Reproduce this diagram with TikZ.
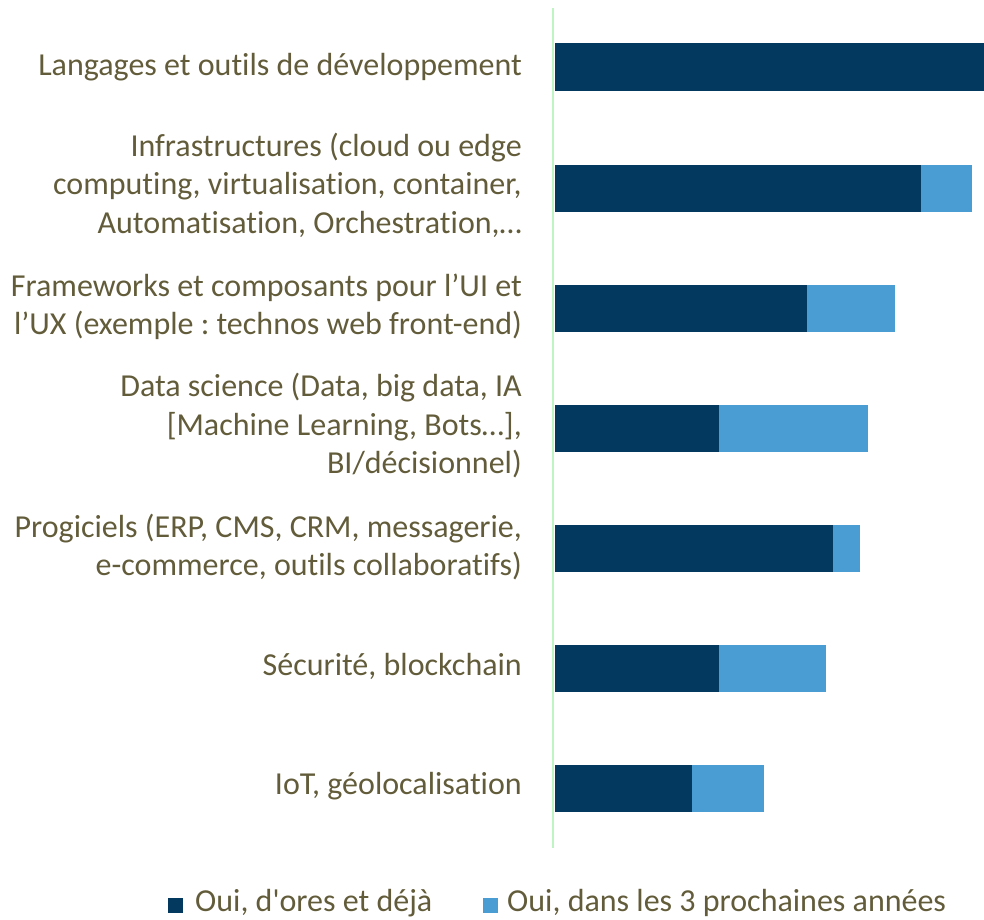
\documentclass[tikz,border=0pt]{standalone}
\usepackage{fontspec}
\newfontfamily\calfont{Carlito}[Ligatures=NoCommon]
\definecolor{txt}{RGB}{98,92,58}
\definecolor{darkbar}{RGB}{3,57,94}
\definecolor{lightbar}{RGB}{74,157,210}
\definecolor{axisgreen}{RGB}{190,245,195}
\begin{document}
\begin{tikzpicture}[x=1pt,y=-1pt,
  lbl/.style={anchor=east,align=right,text=txt,font=\calfont\fontsize{32}{38.5}\selectfont\frenchspacing,inner sep=0pt},
  leg/.style={anchor=west,text=txt,font=\calfont\fontsize{32}{34}\selectfont\frenchspacing,inner sep=0pt},
  dk/.style={fill=darkbar},
  lt/.style={fill=lightbar}]
\useasboundingbox (0,0) rectangle (984,919);
% bars
\fill[dk] (555,43) rectangle (984,91);
\fill[dk] (555,165) rectangle (921,212);
\fill[lt] (921,165) rectangle (972,212);
\fill[dk] (555,285) rectangle (807,332);
\fill[lt] (807,285) rectangle (895,332);
\fill[dk] (555,405) rectangle (719,452);
\fill[lt] (719,405) rectangle (868,452);
\fill[dk] (555,525) rectangle (833,572);
\fill[lt] (833,525) rectangle (860,572);
\fill[dk] (555,645) rectangle (719,692);
\fill[lt] (719,645) rectangle (826,692);
\fill[dk] (555,765) rectangle (692,812);
\fill[lt] (692,765) rectangle (764,812);
% axis
\draw[axisgreen,line width=2.2] (553,8) -- (553,848);
% labels
\node[lbl] (l1) at (522,67) {Langages et outils de développement};
\node[lbl] (l2) at (522,185) {Infrastructures (cloud ou edge\\computing, virtualisation, container,\\Automatisation, Orchestration,…};
\node[lbl] (l3) at (522,307) {Frameworks et composants pour l’UI et\\l’UX (exemple : technos web front-end)};
\node[lbl] (l4) at (522,426) {Data science (Data, big data, IA\\{[Machine Learning, Bots…],}\\BI/décisionnel)};
\node[lbl] (l5) at (522,547) {Progiciels (ERP, CMS, CRM, messagerie,\\e-commerce, outils collaboratifs)};
\node[lbl] (l6) at (522,666) {Sécurité, blockchain};
\node[lbl] (l7) at (522,786) {IoT, géolocalisation};
% legend
\fill[dk] (168,898) rectangle (183,913);
\node[leg] (g1) at (195,903) {Oui, d'ores et déjà};
\fill[lt] (483,898) rectangle (498,913);
\node[leg] (g2) at (507,903) {Oui, dans les 3 prochaines années};
\end{tikzpicture}
\end{document}
